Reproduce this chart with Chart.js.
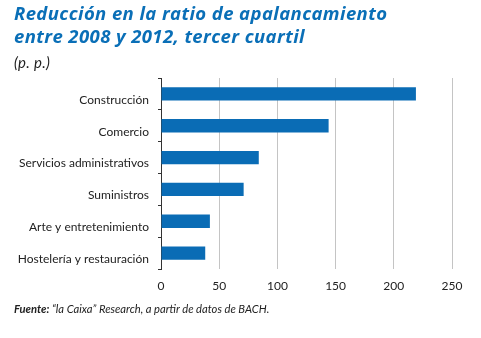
<!DOCTYPE html>
<html>
<head>
<meta charset="utf-8">
<script src="https://cdn.jsdelivr.net/npm/chart.js@4"></script>
<style>
  html, body { margin: 0; padding: 0; background: #fff; }
  #wrap { position: relative; width: 481px; height: 338px; overflow: hidden; }
  #chart { position: absolute; left: 0; top: 0; }
  .title { position: absolute; left: 14px; top: 1px; font-family: "Open Sans", sans-serif; font-weight: 700; font-style: italic;
           font-size: 18.5px; letter-spacing: 0.4px; line-height: 23px; color: #0a6fb7; white-space: nowrap; }
  .unit { position: absolute; left: 14px; top: 53px; font-family: Lato, sans-serif; font-style: italic; font-size: 15px; letter-spacing: 0.3px; color: #222; }
  .source { position: absolute; left: 14px; top: 302px; font-family: Lato, sans-serif; font-style: italic; font-size: 11.2px; color: #222; white-space: nowrap; }
  .source b { font-weight: 700; }
</style>
</head>
<body>
<div id="wrap">
  <canvas id="chart" width="481" height="338"></canvas>
  <div class="title">Reducción en la ratio de apalancamiento<br>entre 2008 y 2012, tercer cuartil</div>
  <div class="unit">(p. p.)</div>
  <div class="source"><b>Fuente:</b> “la Caixa” Research, a partir de datos de BACH.</div>
</div>
<script>
const sectores = ['Construcción', 'Comercio', 'Servicios administrativos', 'Suministros', 'Arte y entretenimiento', 'Hostelería y restauración'];
const reduccion = [219, 144, 84, 71, 42, 38];
const ejeTicks = [0, 50, 100, 150, 200, 250];

const fontBase = { family: 'Lato, sans-serif', size: 12 };

new Chart(document.getElementById('chart'), {
  type: 'bar',
  data: {
    labels: sectores,
    datasets: [{
      data: reduccion,
      backgroundColor: '#0a6cb5',
      borderWidth: 0,
      barPercentage: 0.84,
      categoryPercentage: 0.5
    }]
  },
  options: {
    indexAxis: 'y',
    responsive: false,
    animation: false,
    layout: { padding: { top: 78, right: 29, bottom: 0, left: 0 } },
    plugins: { legend: { display: false }, tooltip: { enabled: false } },
    scales: {
      x: {
        min: 0, max: 250,
        afterBuildTicks: s => { s.ticks = ejeTicks.map(v => ({ value: v })); },
        afterFit: s => { s.height = 69; },
        grid: { color: '#c4c4c4', lineWidth: 1, drawTicks: false },
        border: { display: false },
        ticks: { color: '#222', font: fontBase, padding: 10 }
      },
      y: {
        afterFit: s => { s.width = 161; },
        grid: { offset: true, drawOnChartArea: false, drawTicks: true, tickLength: 3, color: '#333' },
        border: { display: true, color: '#333', width: 1 },
        ticks: { color: '#222', font: fontBase, padding: 9, labelOffset: 6 }
      }
    }
  }
});
</script>
</body>
</html>
